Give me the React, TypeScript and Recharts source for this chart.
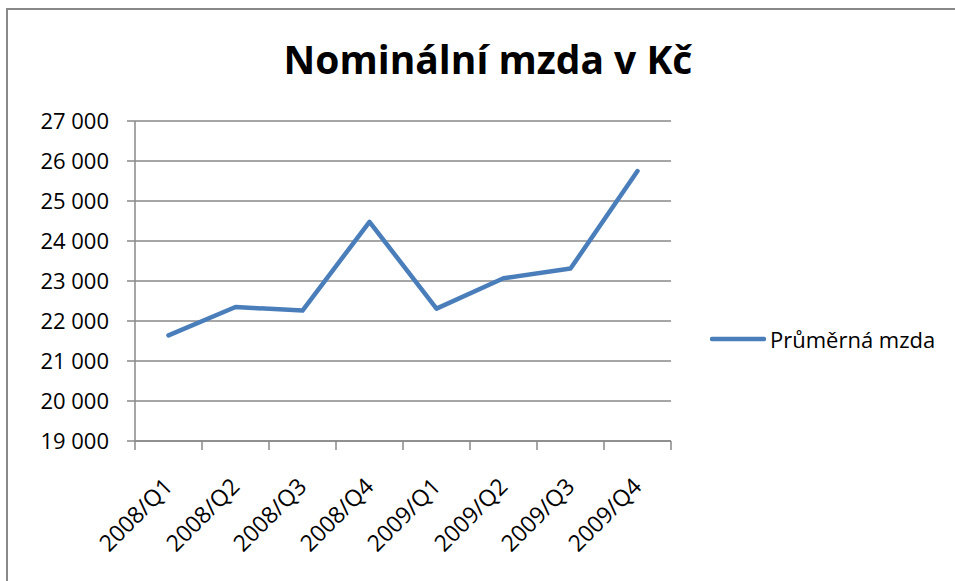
import React from 'react';
import { LineChart, Line, XAxis, YAxis, CartesianGrid, Legend } from 'recharts';

// Čtvrtletí a průměrná nominální mzda (Kč)
const quarters = ['2008/Q1', '2008/Q2', '2008/Q3', '2008/Q4', '2009/Q1', '2009/Q2', '2009/Q3', '2009/Q4'];
const wages = [21640, 22350, 22260, 24480, 22310, 23070, 23310, 25750];
const yTicks = [19000, 20000, 21000, 22000, 23000, 24000, 25000, 26000, 27000];

const data = quarters.map((q, i) => ({ q, mzda: wages[i] }));

const FONT = '"Open Sans", sans-serif';
const GRAY = '#898989';
const BLUE = '#4a7ebb';

const CHART_W = 947;
const CHART_H = 571;
const margin = { top: 111, right: 284, left: 27, bottom: 40 };
const Y_AXIS_W = 100;
const plotW = CHART_W - margin.left - margin.right - Y_AXIS_W;
const band = plotW / quarters.length;

const formatThousands = (v: number) => String(v).replace(/\B(?=(\d{3})+(?!\d))/g, ' ');

const QuarterTick = (props: any) => {
  const { x, y, payload, index } = props;
  const left = x - band / 2;
  const ax = x + 5.5;
  const ay = y + 47;
  return (
    <g>
      <line x1={left} y1={y} x2={left} y2={y + 9} stroke={GRAY} strokeWidth={1.5} />
      {index === quarters.length - 1 && (
        <line x1={x + band / 2} y1={y} x2={x + band / 2} y2={y + 9} stroke={GRAY} strokeWidth={1.5} />
      )}
      <text
        x={ax}
        y={ay}
        textAnchor="end"
        transform={`rotate(-45, ${ax}, ${ay})`}
        fontFamily={FONT}
        fontSize={23}
        fill="#000"
      >
        {payload.value}
      </text>
    </g>
  );
};

const LegendContent = () => (
  <div style={{ display: 'flex', alignItems: 'center', fontFamily: FONT, fontSize: 22, color: '#000' }}>
    <svg width={56} height={8}>
      <line x1={2} y1={4} x2={54} y2={4} stroke={BLUE} strokeWidth={4.5} strokeLinecap="round" />
    </svg>
    <span style={{ marginLeft: 4, whiteSpace: 'nowrap' }}>Průměrná mzda</span>
  </div>
);

export default function App() {
  return (
    <div
      style={{
        position: 'fixed',
        left: 6,
        top: 8,
        width: 949,
        height: 573,
        borderLeft: `2px solid ${GRAY}`,
        borderTop: `2px solid ${GRAY}`,
        background: '#fff',
        overflow: 'hidden',
      }}
    >
      <div
        style={{
          position: 'absolute',
          left: 0,
          width: 960,
          top: 22,
          textAlign: 'center',
          fontFamily: FONT,
          fontWeight: 700,
          fontSize: 39,
          color: '#000',
          whiteSpace: 'nowrap',
        }}
      >
        Nominální mzda v Kč
      </div>
      <LineChart width={CHART_W} height={CHART_H} data={data} margin={margin}>
        <CartesianGrid vertical={false} stroke={GRAY} strokeWidth={1.5} />
        <XAxis
          dataKey="q"
          height={100}
          interval={0}
          padding={{ left: band / 2, right: band / 2 }}
          tickSize={0}
          tickMargin={0}
          tickLine={false}
          axisLine={{ stroke: GRAY, strokeWidth: 1.5 }}
          tick={<QuarterTick />}
        />
        <YAxis
          width={Y_AXIS_W}
          domain={[19000, 27000]}
          ticks={yTicks}
          interval={0}
          tickSize={8}
          tickMargin={18}
          tickFormatter={formatThousands}
          axisLine={{ stroke: GRAY, strokeWidth: 1.5 }}
          tickLine={{ stroke: GRAY, strokeWidth: 1.5 }}
          tick={{ fontFamily: FONT, fontSize: 22, fill: '#000' }}
        />
        <Legend
          layout="horizontal"
          align="center"
          verticalAlign="middle"
          content={<LegendContent />}
          wrapperStyle={{ left: 702, top: 314, width: 'auto' }}
        />
        <Line
          type="linear"
          dataKey="mzda"
          name="Průměrná mzda"
          stroke={BLUE}
          strokeWidth={4.5}
          strokeLinejoin="round"
          strokeLinecap="round"
          dot={false}
          activeDot={false}
          isAnimationActive={false}
        />
      </LineChart>
    </div>
  );
}
